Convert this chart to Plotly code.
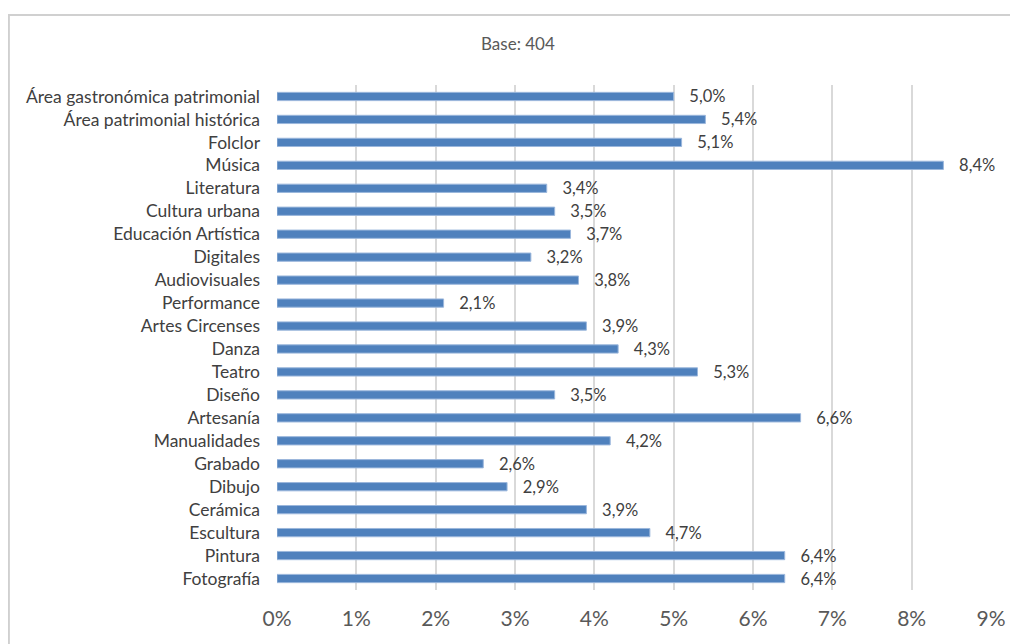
import plotly.graph_objects as go

categories = ["Área gastronómica patrimonial", "Área patrimonial histórica", "Folclor", "Música",
              "Literatura", "Cultura urbana", "Educación Artística", "Digitales", "Audiovisuales",
              "Performance", "Artes Circenses", "Danza", "Teatro", "Diseño", "Artesanía",
              "Manualidades", "Grabado", "Dibujo", "Cerámica", "Escultura", "Pintura", "Fotografía"]
values = [5.0, 5.4, 5.1, 8.4, 3.4, 3.5, 3.7, 3.2, 3.8, 2.1, 3.9, 4.3, 5.3, 3.5, 6.6,
          4.2, 2.6, 2.9, 3.9, 4.7, 6.4, 6.4]
tick_vals = [0, 1, 2, 3, 4, 5, 6, 7, 8, 9]
tick_text = ["0%", "1%", "2%", "3%", "4%", "5%", "6%", "7%", "8%", "9%"]

labels = ["   " + f"{v:.1f}".replace(".", ",") + "%" for v in values]

fig = go.Figure(go.Bar(
    x=values, y=categories, orientation="h",
    marker=dict(color="#4f81bd", line=dict(color="#9bb7dc", width=1)),
    width=0.36,
    text=labels, textposition="outside", cliponaxis=False, constraintext="none",
    textfont=dict(size=16.5, color="#404040", family="Lato"),
))

# page body has an 8px margin, so the figure is sized/shifted to fill the window
fig.update_layout(
    width=1010, height=636,
    margin=dict(l=269, r=22, t=77, b=54),
    paper_bgcolor="white", plot_bgcolor="white",
    font=dict(family="Lato", color="#595959"),
    showlegend=False,
    xaxis=dict(range=[0, 9], tickvals=tick_vals, ticktext=tick_text,
               tickfont=dict(size=21, color="#595959"), showgrid=True,
               gridcolor="#d9d9d9", gridwidth=1.5, zeroline=False,
               showline=False, ticklabelstandoff=14),
    yaxis=dict(autorange="reversed", tickfont=dict(size=17.5, color="#404040"),
               ticklabelstandoff=16, showgrid=False, showline=False),
    annotations=[dict(text="Base: 404", xref="paper", yref="paper", x=0.337, y=1.107,
                      showarrow=False, font=dict(size=17, color="#595959"))],
    shapes=[dict(type="rect", xref="paper", yref="paper", x0=-0.3755, x1=1.2,
                 y0=-0.3, y1=1.1386, line=dict(color="#d0d0d0", width=2))],
)

fig.write_html("out.html")
